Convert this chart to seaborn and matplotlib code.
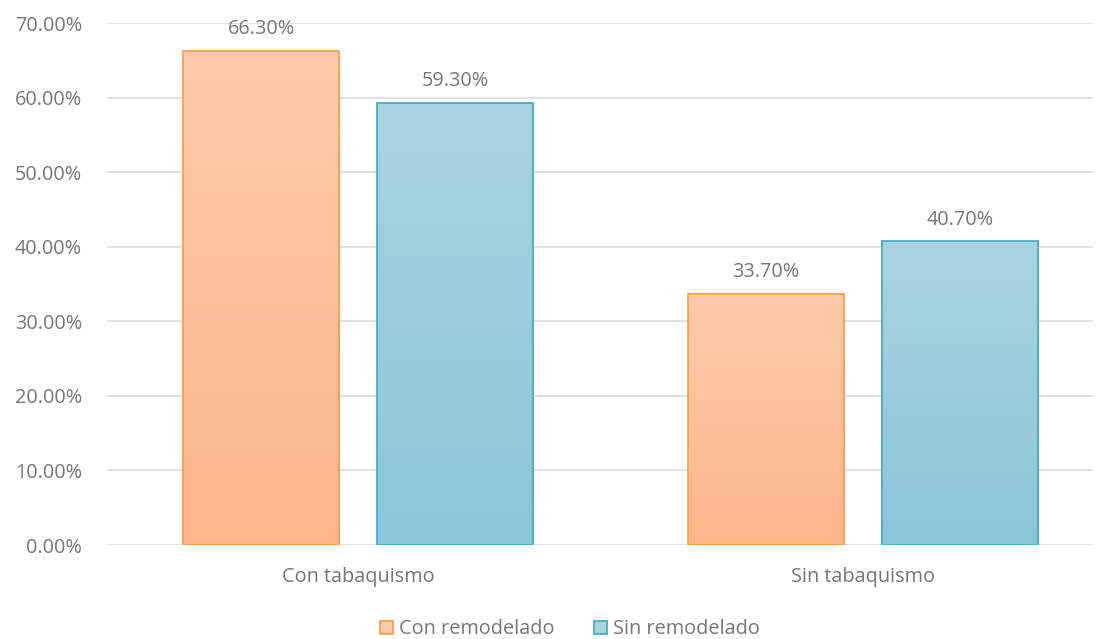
import numpy as np
import pandas as pd
import matplotlib
matplotlib.use("Agg")
import matplotlib.pyplot as plt
from matplotlib.colors import LinearSegmentedColormap
from matplotlib.patches import Patch
import seaborn as sns

categories = ["Con tabaquismo", "Sin tabaquismo"]
series_names = ["Con remodelado", "Sin remodelado"]
con_remodelado = [0.663, 0.337]
sin_remodelado = [0.593, 0.407]
y_ticks = [0.0, 0.1, 0.2, 0.3, 0.4, 0.5, 0.6, 0.7]

df = pd.DataFrame({
    "cat": categories * 2,
    "serie": [series_names[0]] * 2 + [series_names[1]] * 2,
    "val": con_remodelado + sin_remodelado,
})

sns.set_theme(style="white")
plt.rcParams["font.family"] = ["Open Sans", "DejaVu Sans"]

FS = 14.3
TXT = "#767676"

fig = plt.figure(figsize=(11.04, 6.39), dpi=100)
ax = fig.add_axes([0.0969, 0.1471, 0.8931, 0.8169])

edge_cols = {series_names[0]: "#F5A052", series_names[1]: "#4AACC6"}
grad = {series_names[0]: ("#FCCBAB", "#FDB68A"), series_names[1]: ("#AAD3E0", "#8AC5D9")}

sns.barplot(data=df, x="cat", y="val", hue="serie", order=categories,
            hue_order=series_names, width=0.768, gap=0.195,
            palette=[grad[s][1] for s in series_names], ax=ax, legend=False,
            errorbar=None, zorder=2)

ax.set_xlim(-0.497, 1.455)
ax.set_ylim(0, 0.70)
ax.set_yticks(y_ticks)
ax.set_yticklabels([f"{t*100:.2f}%" for t in y_ticks])
ax.grid(axis="y", color="#D9D9D9", linewidth=1.1, zorder=0)
ax.set_axisbelow(True)
for s in ax.spines.values():
    s.set_visible(False)
ax.tick_params(axis="both", length=0, labelsize=FS, labelcolor=TXT)
ax.tick_params(axis="y", pad=18)
ax.tick_params(axis="x", pad=16)
ax.set_xlabel("")
ax.set_ylabel("")

# gradient fills and edges
for container, name in zip(ax.containers, series_names):
    top, bot = grad[name]
    cmap = LinearSegmentedColormap.from_list(name, [bot, top])
    for bar in container:
        x0, y0 = bar.get_x(), bar.get_y()
        w, h = bar.get_width(), bar.get_height()
        img = ax.imshow(np.linspace(0, 1, 256).reshape(-1, 1), cmap=cmap,
                        extent=[x0, x0 + w, y0, y0 + h], origin="lower",
                        aspect="auto", zorder=2.5)
        img.set_clip_path(bar)
        bar.set_facecolor("none")
        bar.set_edgecolor(edge_cols[name])
        bar.set_linewidth(1.3)
        bar.set_zorder(3)
    ax.bar_label(container, labels=[f"{v.get_height()*100:.2f}%" for v in container],
                 padding=8.5, fontsize=FS, color=TXT)

ax.set_xlim(-0.497, 1.455)
ax.set_ylim(0, 0.70)

handles = [Patch(facecolor=grad[n][0], edgecolor=edge_cols[n], linewidth=1.3, label=n)
           for n in series_names]
fig.legend(handles=handles, loc="center", bbox_to_anchor=(0.516, 0.015), ncol=2,
           frameon=False, fontsize=FS, labelcolor=TXT, handlelength=0.65,
           handleheight=0.65, handletextpad=0.3, columnspacing=2.0)

fig.savefig("out.png", dpi=100)
